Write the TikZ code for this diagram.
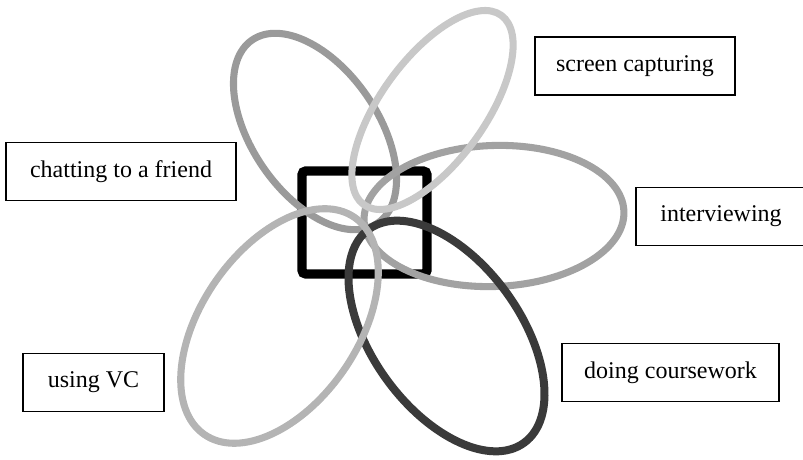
\documentclass[tikz,border=0pt]{standalone}
\usepackage{fontspec}
\setmainfont{Liberation Serif}

\tikzset{
  label box/.style={draw, line width=1pt, minimum height=43.5pt, inner sep=0pt, font=\fontsize{18}{20}\selectfont},
  loop/.style={line width=5.3pt},
}

\begin{document}
\begin{tikzpicture}[x=0.75pt, y=0.75pt]
        % \draw[help lines, gray!50, very thin] (0,0) grid[step=50] (803,460);
        \useasboundingbox (0,0) rectangle (803,460);

        % the square in the middle
        \draw[line width=7.1pt, rounded corners=3pt] (302,186) rectangle (427,289);

        % the five loops
        \draw[loop, color={rgb,255:red,154;green,154;blue,154}, rotate around={-55.5:(315,328.5)}] (315,328.5) ellipse (111 and 63);
        \draw[loop, color={rgb,255:red,162;green,162;blue,162}, rotate around={2:(494,244)}] (494,244) ellipse (130 and 70.5);
        \draw[loop, line width=6pt, color={rgb,255:red,58;green,58;blue,58}, rotate around={-54:(446.5,124)}] (446.5,124) ellipse (132 and 74);
        \draw[loop, color={rgb,255:red,180;green,180;blue,180}, rotate around={55.3:(279.5,134)}] (279.5,134) ellipse (132 and 78);
        \draw[loop, color={rgb,255:red,200;green,200;blue,200}, rotate around={54:(432.5,350)}] (432.5,350) ellipse (117 and 52);

        % the labels
        \node[label box, minimum width=150pt] (screen) at (635,394) {screen capturing};
        \node[label box, minimum width=172.5pt] (chat) at (121,288.5) {chatting to a friend};
        \node[label box, minimum width=127.5pt] (interview) at (721,243.5) {interviewing};
        \node[label box, minimum width=162.75pt] (course) at (670.5,87.5) {doing coursework};
        \node[label box, minimum width=105.75pt] (vc) at (93.5,77.5) {using VC};
      \end{tikzpicture}
\end{document}
